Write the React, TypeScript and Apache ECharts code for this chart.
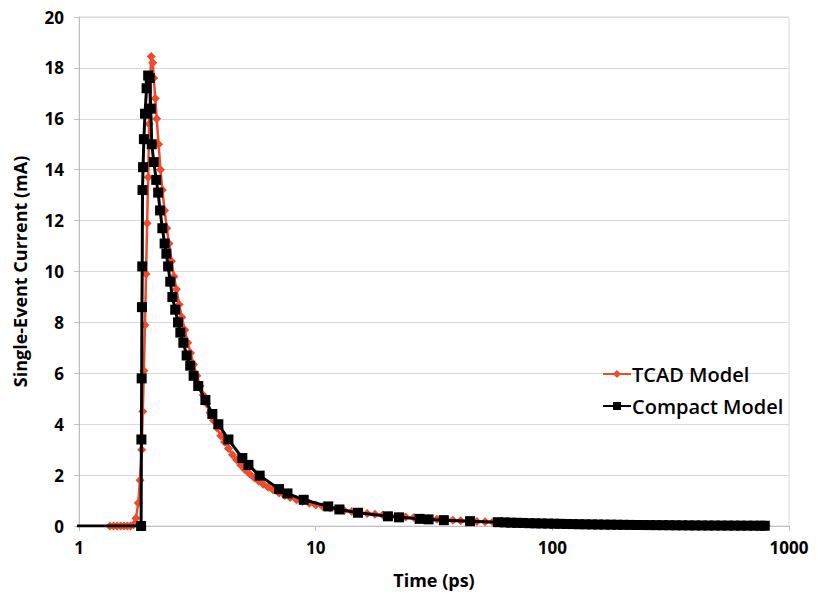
import React, { useEffect, useRef } from "react";
import * as echarts from "echarts";

const seriesNames = ["TCAD Model", "Compact Model"];

const tcadTime = [1.35, 1.4, 1.45, 1.5, 1.55, 1.6, 1.65, 1.7, 1.74, 1.78, 1.81, 1.84, 1.86, 1.88, 1.9, 1.92, 1.94, 1.96, 1.98, 2.0, 2.02, 2.05, 2.07, 2.1, 2.13, 2.17, 2.21, 2.25, 2.3, 2.35, 2.4, 2.46, 2.52, 2.58, 2.65, 2.72, 2.8, 2.88, 2.96, 3.05, 3.15, 3.25, 3.35, 3.46, 3.58, 3.7, 3.83, 3.97, 4.12, 4.28, 4.45, 4.63, 4.82, 5.02, 5.25, 5.5, 5.75, 6.0, 6.3, 6.6, 7.0, 7.4, 7.8, 8.3, 8.8, 9.4, 10, 10.7, 11.5, 12.3, 13.2, 14.2, 15.3, 16.5, 17.8, 19.2, 20.7, 22.3, 24, 26, 28, 30, 32.5, 35, 38, 41, 44, 48, 52, 56, 60, 65, 70, 76, 82, 89, 96, 104, 112, 121, 131, 142, 154, 167, 181, 196, 212, 230, 250, 270, 295, 320, 350, 380, 415, 450, 490, 530, 580, 630, 690, 750, 800];
const tcadCurrent = [0, 0, 0, 0, 0, 0, 0, 0.05, 0.3, 0.9, 1.8, 3.0, 4.5, 6.1, 7.9, 9.9, 11.9, 13.7, 15.8, 17.6, 18.45, 18.2, 17.6, 16.8, 16.0, 15.0, 14.0, 13.2, 12.4, 11.7, 11.1, 10.4, 9.8, 9.3, 8.7, 8.2, 7.7, 7.2, 6.8, 6.35, 5.9, 5.5, 5.15, 4.8, 4.45, 4.15, 3.85, 3.55, 3.3, 3.05, 2.8, 2.6, 2.4, 2.22, 2.05, 1.9, 1.76, 1.64, 1.52, 1.42, 1.3, 1.2, 1.12, 1.03, 0.96, 0.89, 0.83, 0.77, 0.71, 0.66, 0.61, 0.57, 0.53, 0.49, 0.46, 0.43, 0.4, 0.37, 0.35, 0.33, 0.31, 0.29, 0.27, 0.25, 0.23, 0.21, 0.2, 0.18, 0.17, 0.16, 0.15, 0.14, 0.13, 0.12, 0.11, 0.1, 0.095, 0.09, 0.085, 0.08, 0.075, 0.07, 0.065, 0.06, 0.055, 0.05, 0.047, 0.044, 0.041, 0.038, 0.035, 0.032, 0.03, 0.028, 0.026, 0.024, 0.022, 0.02, 0.018, 0.016, 0.015, 0.013, 0.012, 0.011];

const compactTime = [0.5, 1.83, 1.835, 1.84, 1.845, 1.85, 1.855, 1.865, 1.88, 1.9, 1.93, 1.96, 1.99, 2.01, 2.03, 2.07, 2.12, 2.16, 2.2, 2.25, 2.3, 2.34, 2.38, 2.43, 2.48, 2.55, 2.62, 2.68, 2.76, 2.85, 2.95, 3.05, 3.19, 3.42, 3.66, 3.88, 4.28, 4.9, 5.2, 5.8, 7.0, 7.6, 8.9, 11.3, 12.6, 15.1, 20.2, 22.5, 27.5, 30, 34.8, 44.9, 59, 63, 67, 71, 75, 80, 85, 90, 96, 102, 108, 115, 122, 130, 138, 147, 156, 166, 177, 188, 200, 213, 227, 242, 258, 275, 293, 312, 332, 354, 377, 402, 428, 456, 486, 518, 552, 588, 626, 667, 711, 757, 790];
const compactCurrent = [0, 0, 3.4, 5.8, 8.6, 10.2, 13.2, 14.1, 15.2, 16.2, 17.2, 17.7, 17.6, 16.4, 15.0, 14.3, 13.6, 13.1, 12.4, 11.7, 11.1, 10.7, 10.2, 9.6, 9.0, 8.5, 8.0, 7.6, 7.2, 6.7, 6.3, 5.9, 5.5, 4.95, 4.4, 4.0, 3.4, 2.67, 2.4, 1.98, 1.45, 1.28, 1.03, 0.77, 0.65, 0.52, 0.38, 0.34, 0.28, 0.26, 0.23, 0.19, 0.15, 0.14, 0.13, 0.125, 0.12, 0.11, 0.105, 0.1, 0.095, 0.09, 0.085, 0.08, 0.075, 0.07, 0.066, 0.062, 0.058, 0.055, 0.052, 0.049, 0.046, 0.043, 0.04, 0.038, 0.036, 0.034, 0.032, 0.03, 0.028, 0.026, 0.024, 0.022, 0.02, 0.019, 0.018, 0.017, 0.016, 0.015, 0.014, 0.013, 0.012, 0.011, 0.01];

const xTicks = [1, 10, 100, 1000];
const yMin = 0;
const yMax = 20;
const yStep = 2;

const FONT = "'Open Sans', 'Noto Sans', sans-serif";

export default function App() {
  const ref = useRef<HTMLDivElement>(null);
  useEffect(() => {
    if (!ref.current) return;
    const chart = echarts.init(ref.current, undefined, { renderer: "svg" });
    const tcadData = tcadTime.map((t, i) => [t, tcadCurrent[i]]);
    const compactData = compactTime.map((t, i) => [t, compactCurrent[i]]);
    chart.setOption({
      animation: false,
      backgroundColor: "#ffffff",
      grid: {
        left: 79,
        right: 28,
        top: 17,
        bottom: 67,
        show: true,
        borderColor: "#d9d9d9",
        borderWidth: 1,
      },
      legend: {
        orient: "vertical",
        left: 597,
        top: 359,
        itemWidth: 28,
        itemHeight: 10,
        itemGap: 12,
        textStyle: {
          fontFamily: FONT,
          fontSize: 20,
          fontWeight: 600,
          color: "#000",
          padding: [0, 0, 0, -4],
        },
        data: seriesNames,
      },
      xAxis: {
        type: "log",
        logBase: 10,
        min: xTicks[0],
        max: xTicks[xTicks.length - 1],
        name: "Time (ps)",
        nameLocation: "middle",
        nameGap: 45,
        nameTextStyle: { fontFamily: FONT, fontSize: 18, fontWeight: 700, color: "#000" },
        axisLine: { show: true, lineStyle: { color: "#bfbfbf", width: 1 } },
        axisTick: { show: true, inside: false, length: 5, lineStyle: { color: "#bfbfbf" } },
        axisLabel: {
          fontFamily: FONT,
          fontSize: 17,
          fontWeight: 700,
          color: "#000",
          margin: 13,
          formatter: (v: number) => String(Math.round(v)),
        },
        splitLine: { show: false },
        minorTick: { show: false },
      },
      yAxis: {
        type: "value",
        min: yMin,
        max: yMax,
        interval: yStep,
        name: "Single-Event Current (mA)",
        nameLocation: "middle",
        nameGap: 50,
        nameTextStyle: { fontFamily: FONT, fontSize: 18, fontWeight: 700, color: "#000" },
        axisLine: { show: true, lineStyle: { color: "#bfbfbf", width: 1 } },
        axisTick: { show: true, inside: false, length: 5, lineStyle: { color: "#bfbfbf" } },
        axisLabel: { fontFamily: FONT, fontSize: 17, fontWeight: 700, color: "#000", margin: 15 },
        splitLine: { show: true, lineStyle: { color: "#d9d9d9", width: 1 } },
      },
      series: [
        {
          name: seriesNames[0],
          type: "line",
          data: tcadData,
          symbol: "diamond",
          symbolSize: 9,
          showAllSymbol: true,
          itemStyle: { color: "#f04a2c" },
          lineStyle: { color: "#f04a2c", width: 2.5 },
          z: 2,
        },
        {
          name: seriesNames[1],
          type: "line",
          data: compactData,
          symbol: "rect",
          symbolSize: 10,
          showAllSymbol: true,
          itemStyle: { color: "#000000" },
          lineStyle: { color: "#000000", width: 3 },
          z: 3,
        },
      ],
    });
    return () => chart.dispose();
  }, []);
  return <div ref={ref} style={{ width: 817, height: 594, margin: "-8px 0 0 -8px" }} />;
}
